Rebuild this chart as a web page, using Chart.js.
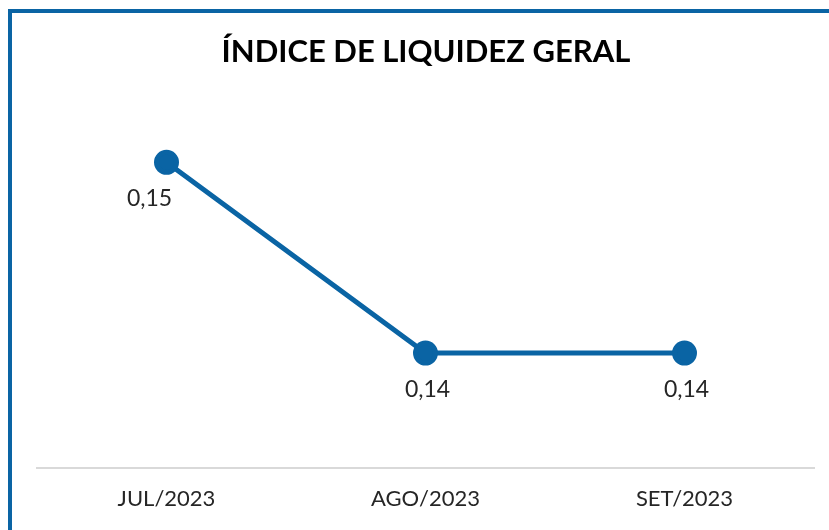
<!DOCTYPE html>
<html lang="pt-BR">
<head>
    <meta charset="UTF-8" />
    <title>Índice de Liquidez Geral</title>
    <script src="https://cdn.jsdelivr.net/npm/chart.js"></script>
    <style>
        body {
            margin: 0;
            background: #ffffff;
        }

        .frame {
            position: absolute;
            left: 8px;
            top: 9px;
            width: 817px;
            height: 517px;
            border-top: 4px solid #0a64a4;
            border-left: 4px solid #0a64a4;
        }
    </style>
</head>
<body>
    <div class="frame">
        <canvas id="liquidezChart" width="817" height="517"></canvas>
    </div>

    <script>
        // Data
        const meses = ["JUL/2023", "AGO/2023", "SET/2023"];
        const liquidez = [0.15, 0.14, 0.14];
        const titulo = "ÍNDICE DE LIQUIDEZ GERAL";

        const azul = "#0a64a4";
        const fonte = "Lato, 'Noto Sans', sans-serif";

        // labels under each point, like excel "below" labels
        const rotulos = {
            id: "rotulos",
            afterDatasetsDraw(chart) {
                const ctx = chart.ctx;
                const meta = chart.getDatasetMeta(0);
                ctx.save();
                ctx.font = "23px " + fonte;
                ctx.fillStyle = "#262626";
                ctx.textAlign = "center";
                ctx.textBaseline = "middle";
                meta.data.forEach(function (pt, i) {
                    const txt = liquidez[i].toLocaleString("pt-BR", { minimumFractionDigits: 2 });
                    const dx = i === 0 ? -17 : 2;
                    ctx.fillText(txt, pt.x + dx, pt.y + 36);
                });
                ctx.restore();
            }
        };

        const config = {
            type: "line",
            data: {
                labels: meses,
                datasets: [
                    {
                        data: liquidez,
                        borderColor: azul,
                        backgroundColor: azul,
                        borderWidth: 5,
                        pointRadius: 10,
                        pointHoverRadius: 10,
                        tension: 0,
                    },
                ],
            },
            options: {
                responsive: false,
                animation: false,
                layout: {
                    padding: { left: 25, right: 14, top: 0, bottom: 0 },
                },
                plugins: {
                    legend: { display: false },
                    tooltip: { enabled: false },
                    title: {
                        display: true,
                        text: titulo,
                        color: "#000000",
                        font: { family: fonte, size: 31, weight: "bold" },
                        padding: { top: 20, bottom: 40 },
                    },
                },
                scales: {
                    x: {
                        offset: true,
                        grid: { display: false, drawTicks: false },
                        border: { display: true, color: "#d9d9d9", width: 2 },
                        ticks: {
                            color: "#262626",
                            padding: 18,
                            font: { family: fonte, size: 22 },
                        },
                    },
                    y: {
                        display: false,
                        min: 0.134,
                        max: 0.15273,
                    },
                },
            },
        };

        window.onload = function () {
            const ctx = document.getElementById("liquidezChart").getContext("2d");
            new Chart(ctx, { ...config, plugins: [rotulos] });
        };
    </script>
</body>
</html>
